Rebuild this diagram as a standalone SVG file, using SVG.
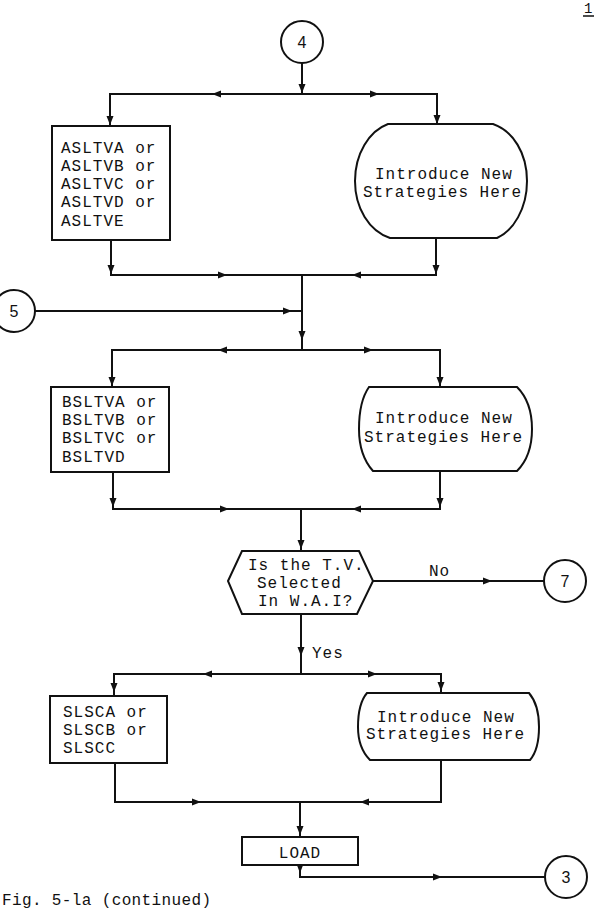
<svg xmlns="http://www.w3.org/2000/svg" xmlns:xlink="http://www.w3.org/1999/xlink" width="594" height="910" viewBox="0 0 594 910">
<defs>
<style>
.ln{fill:none;stroke:#111;stroke-width:2;stroke-linejoin:miter}
.shp{fill:#fff;stroke:#111;stroke-width:2}
.t{font-family:"Liberation Mono","Courier New",monospace;font-size:16px;letter-spacing:1px;fill:#111}
.n{font-family:"Liberation Sans",Arial,sans-serif;font-size:16px;fill:#111;text-anchor:middle}
.ah{fill:#111}
</style>
<path id="ah" d="M0,0 L-9,-3.5 L-9,3.5 Z"/>
</defs>
<rect width="594" height="910" fill="#fff"/>

<g id="connectors">
<path class="ln" d="M302,63 V94"/>
<path class="ln" d="M110,126 V94 H437 V124"/>
<path class="ln" d="M111,240 V275 H436 V238"/>
<path class="ln" d="M302,275 V350"/>
<path class="ln" d="M35,311 H302"/>
<path class="ln" d="M112,387 V350 H440 V387"/>
<path class="ln" d="M113,472 V509 H440 V471"/>
<path class="ln" d="M301,509 V551"/>
<path class="ln" d="M373,581 H544"/>
<path class="ln" d="M301,614 V674"/>
<path class="ln" d="M114,696 V674 H441 V693"/>
<path class="ln" d="M115,763 V802 H441 V760"/>
<path class="ln" d="M300,802 V837"/>
<path class="ln" d="M300,865 V877 H545"/>
<g class="ah">
<use xlink:href="#ah" transform="translate(302,93) rotate(90)"/>
<use xlink:href="#ah" transform="translate(212,94) rotate(180)"/>
<use xlink:href="#ah" transform="translate(379,94)"/>
<use xlink:href="#ah" transform="translate(110,125) rotate(90)"/>
<use xlink:href="#ah" transform="translate(437,124) rotate(90)"/>
<use xlink:href="#ah" transform="translate(111,274) rotate(90)"/>
<use xlink:href="#ah" transform="translate(436,274) rotate(90)"/>
<use xlink:href="#ah" transform="translate(227,275)"/>
<use xlink:href="#ah" transform="translate(352,275) rotate(180)"/>
<use xlink:href="#ah" transform="translate(292,311)"/>
<use xlink:href="#ah" transform="translate(302,340) rotate(90)"/>
<use xlink:href="#ah" transform="translate(218,350) rotate(180)"/>
<use xlink:href="#ah" transform="translate(373,350)"/>
<use xlink:href="#ah" transform="translate(112,386) rotate(90)"/>
<use xlink:href="#ah" transform="translate(440,386) rotate(90)"/>
<use xlink:href="#ah" transform="translate(113,507) rotate(90)"/>
<use xlink:href="#ah" transform="translate(440,507) rotate(90)"/>
<use xlink:href="#ah" transform="translate(229,509)"/>
<use xlink:href="#ah" transform="translate(352,509) rotate(180)"/>
<use xlink:href="#ah" transform="translate(301,549) rotate(90)"/>
<use xlink:href="#ah" transform="translate(492,581)"/>
<use xlink:href="#ah" transform="translate(301,656) rotate(90)"/>
<use xlink:href="#ah" transform="translate(203,674) rotate(180)"/>
<use xlink:href="#ah" transform="translate(377,674)"/>
<use xlink:href="#ah" transform="translate(114,692) rotate(90)"/>
<use xlink:href="#ah" transform="translate(441,691) rotate(90)"/>
<use xlink:href="#ah" transform="translate(201,802)"/>
<use xlink:href="#ah" transform="translate(360,802) rotate(180)"/>
<use xlink:href="#ah" transform="translate(300,835) rotate(90)"/>
<use xlink:href="#ah" transform="translate(300,873) rotate(90)"/>
<use xlink:href="#ah" transform="translate(442,877)"/>
</g>
<text class="t" x="429" y="576">No</text>
<text class="t" x="312" y="658">Yes</text>
</g>

<g id="c4">
<circle class="shp" cx="302" cy="42" r="21"/>
<text class="n" x="302" y="48">4</text>
</g>

<g id="asltv">
<rect class="shp" x="52" y="126" width="118" height="114"/>
<text class="t" x="61" y="153">ASLTVA or</text>
<text class="t" x="61" y="171">ASLTVB or</text>
<text class="t" x="61" y="189">ASLTVC or</text>
<text class="t" x="61" y="207">ASLTVD or</text>
<text class="t" x="61" y="226">ASLTVE</text>
</g>

<g id="new1">
<path class="shp" d="M388,124 H493 C513,131 527,153 527,181 C527,209 513,231 497,238 H390 C369,231 355,208 355,181 C355,154 369,131 388,124 Z"/>
<text class="t" x="375" y="179">Introduce New</text>
<text class="t" x="363" y="197">Strategies Here</text>
</g>

<g id="c5">
<circle class="shp" cx="14" cy="311" r="21"/>
<text class="n" x="14" y="317">5</text>
</g>

<g id="bsltv">
<rect class="shp" x="51" y="387" width="118" height="85"/>
<text class="t" x="62" y="407">BSLTVA or</text>
<text class="t" x="62" y="425">BSLTVB or</text>
<text class="t" x="62" y="443">BSLTVC or</text>
<text class="t" x="62" y="462">BSLTVD</text>
</g>

<g id="new2">
<path class="shp" d="M369,387 H517 C527,397 532,412 532,429 C532,446 527,461 517,471 H373 C364,461 359,446 359,429 C359,412 362,397 369,387 Z"/>
<text class="t" x="375" y="423">Introduce New</text>
<text class="t" x="364" y="442">Strategies Here</text>
</g>

<g id="decision">
<polygon class="shp" points="228,581 242,551 359,551 373,581 357,614 242,614"/>
<text class="t" x="248" y="570">Is the T.V.</text>
<text class="t" x="257" y="588">Selected</text>
<text class="t" x="258" y="606">In W.A.I?</text>
</g>

<g id="c7">
<circle class="shp" cx="565" cy="581" r="21"/>
<text class="n" x="565" y="587">7</text>
</g>

<g id="slsc">
<rect class="shp" x="50" y="696" width="117" height="67"/>
<text class="t" x="63" y="717">SLSCA or</text>
<text class="t" x="63" y="735">SLSCB or</text>
<text class="t" x="63" y="753">SLSCC</text>
</g>

<g id="new3">
<path class="shp" d="M367,693 H529 C535,700 539,712 539,727 C539,742 536,753 530,760 H370 C363,753 358,742 358,727 C358,712 361,700 367,693 Z"/>
<text class="t" x="377" y="722">Introduce New</text>
<text class="t" x="366" y="739">Strategies Here</text>
</g>

<g id="load">
<rect class="shp" x="242" y="837" width="116" height="28"/>
<text class="t" x="300" y="858" text-anchor="middle">LOAD</text>
</g>

<g id="c3">
<circle class="shp" cx="566" cy="877" r="21"/>
<text class="n" x="566" y="883">3</text>
</g>

<g id="caption">
<text class="t" x="2" y="905" textLength="210" lengthAdjust="spacing">Fig. 5-la (continued)</text>
<text class="t" x="584" y="13" style="font-size:14px">1</text>
<line x1="583" y1="16" x2="594" y2="16" stroke="#111" stroke-width="1.5"/>
</g>
</svg>
